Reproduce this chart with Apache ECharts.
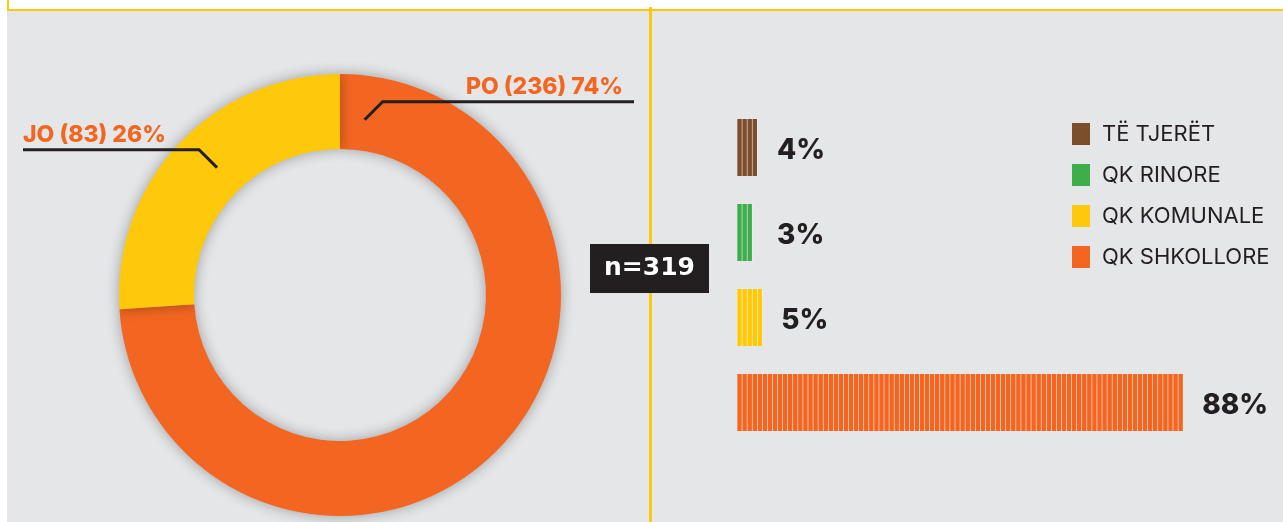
<!DOCTYPE html>
<html lang="sq">
<head>
	<meta charset="UTF-8">
	<title>QK</title>
	<style>
		body { margin: 0; background: #fff; overflow: hidden; }
		#topbox { position: absolute; left: 7px; top: -20px; width: 1400px; height: 27px; border: 2px solid #FFC90B; }
		#panel { position: absolute; left: 7px; top: 9px; width: 1276px; height: 513px; background: #E5E6E8; }
		#divider { position: absolute; left: 649px; top: 7px; width: 3px; height: 515px; background: #FFC90B; }
		#main { position: absolute; left: 0; top: 0; width: 1283px; height: 522px; }
	</style>
</head>
<body>
	<div id="panel"></div>
	<div id="topbox"></div>
	<div id="divider"></div>
	<div id="main"></div>
	<script src="https://cdn.jsdelivr.net/npm/echarts@6.0.0/dist/echarts.min.js"></script>
	<script>
		// donut: PO / JO
		var pieNames = ['PO', 'JO'];
		var pieValues = [236, 83];
		var pieColors = ['#F36621', '#FFC90B'];

		// bars
		var barCats = ['TË TJERËT', 'QK RINORE', 'QK KOMUNALE', 'QK SHKOLLORE'];
		var barValues = [4, 3, 5, 88];
		var barColors = ['#7B4F2C', '#3DAE4A', '#FFC90B', '#F36621'];

		var sampleText = 'n=319';

		var dark = '#231F20';
		var font = 'Inter, "Noto Sans", sans-serif';

		var cx = 340, cy = 295;
		var anchorAngle = [82, 134]; // where the label line touches the ring
		var pxPerPct = 5.07;

		var pieData = pieNames.map(function (n, i) {
			return { name: n, value: pieValues[i], itemStyle: { color: pieColors[i] } };
		});

		var series = [{
			type: 'pie',
			center: [cx, cy],
			radius: [146, 221],
			startAngle: 90,
			silent: true,
			data: pieData,
			itemStyle: { shadowBlur: 14, shadowColor: 'rgba(0,0,0,0.32)' },
			label: { show: false },
			labelLine: { show: false }
		}, {
			// transparent copy on top, only for the labels and their lines
			type: 'pie',
			center: [cx, cy],
			radius: [146, 221],
			startAngle: 90,
			silent: true,
			z: 5,
			percentPrecision: 0,
			data: pieNames.map(function (n, i) { return { name: n, value: pieValues[i] }; }),
			itemStyle: { color: 'rgba(0,0,0,0)' },
			label: {
				formatter: '{b} ({c}) {d}%',
				color: '#F36621',
				fontFamily: font,
				fontWeight: 800,
				fontSize: 23,
				lineHeight: 23,
				overflow: 'none'
			},
			labelLine: { show: true, lineStyle: { color: dark, width: 3 } },
			labelLayout: function (p) {
				var i = p.dataIndex;
				var a = anchorAngle[i] * Math.PI / 180;
				var sx = cx + 177 * Math.cos(a), sy = cy - 177 * Math.sin(a);
				var dir = Math.cos(a) >= 0 ? 1 : -1;
				var ex = sx + dir * 18, ey = sy - 18;
				var endX = dir > 0 ? 634 : 23;
				return {
					x: dir > 0 ? endX - 11 : endX,
					y: ey - 3,
					align: dir > 0 ? 'right' : 'left',
					verticalAlign: 'bottom',
					labelLinePoints: [[sx, sy], [ex, ey], [endX, ey]]
				};
			}
		}, {
			// white backing so the gaps between stripes show white
			name: 'bg',
			type: 'bar',
			barWidth: 57,
			silent: true,
			itemStyle: { color: '#fff' },
			data: barValues.map(function (v) {
				// short bars keep their label at a fixed spot
				var pos = v * pxPerPct + 18 < 40 ? [40, '50%'] : 'right';
				return { value: v, label: { position: pos } };
			}),
			label: {
				show: true,
				position: 'right',
				distance: 19,
				offset: [0, 3],
				verticalAlign: 'middle',
				formatter: '{c}%',
				color: dark,
				fontFamily: font,
				fontWeight: 800,
				fontSize: 28
			}
		}];

		// one stripe per percent, laid out over the full 100% and clipped at the value
		barCats.forEach(function (c, i) {
			series.push({
				name: c,
				type: 'pictorialBar',
				barWidth: 57,
				barGap: '-100%',
				symbol: 'rect',
				symbolRepeat: true,
				symbolClip: true,
				symbolBoundingData: 100,
				symbolSize: [pxPerPct - 0.55, 57],
				symbolMargin: '0.275!',
				silent: true,
				itemStyle: { color: barColors[i] },
				data: barValues.map(function (v, j) { return j === i ? v : '-'; }),
				z: 3
			});
		});

		var myChart = echarts.init(document.getElementById('main'));
		var option = {
			animation: false,
			color: barColors,
			grid: { left: 737, width: pxPerPct * 100, top: 105, height: 340 },
			xAxis: { type: 'value', min: 0, max: 100, show: false },
			yAxis: { type: 'category', data: barCats, inverse: true, show: false },
			legend: {
				data: barCats,
				orient: 'vertical',
				left: 1072,
				top: 123,
				padding: 0,
				icon: 'rect',
				itemWidth: 18,
				itemHeight: 22,
				itemGap: 19,
				selectedMode: false,
				textStyle: { fontFamily: font, fontSize: 22, color: dark, padding: [0, 0, 0, 7] }
			},
			graphic: [{
				type: 'text',
				x: 649.5,
				y: 268.5,
				z: 10,
				style: {
					text: sampleText,
					fill: '#fff',
					font: 'bold 25px "DejaVu Sans", sans-serif',
					align: 'center',
					verticalAlign: 'middle',
					backgroundColor: dark,
					width: 119,
					lineHeight: 29,
					padding: [10, 0]
				}
			}],
			series: series
		};
		myChart.setOption(option);
	</script>
</body>
</html>
